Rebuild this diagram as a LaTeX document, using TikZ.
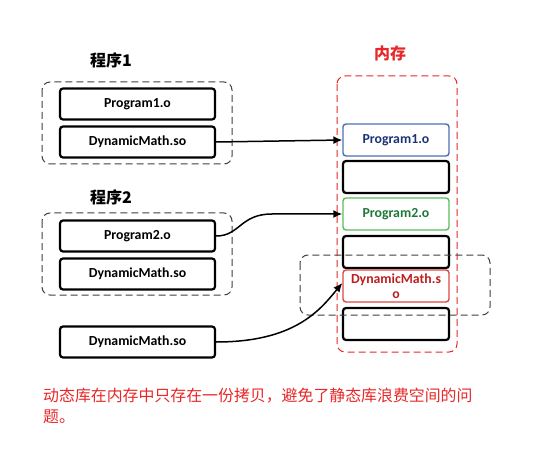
\documentclass[tikz,border=0pt]{standalone}
\usepackage{fontspec}
\setmainfont{Carlito}
\newfontfamily\cjk{Noto Sans CJK SC}
\usetikzlibrary{arrows.meta}
\definecolor{memred}{RGB}{232,40,40}
\definecolor{blueb}{RGB}{80,110,180}
\definecolor{bluet}{RGB}{30,50,120}
\definecolor{greenb}{RGB}{90,190,90}
\definecolor{greent}{RGB}{30,120,60}
\definecolor{redb}{RGB}{225,70,70}
\definecolor{redt}{RGB}{190,30,30}
\begin{document}
\begin{tikzpicture}[x=1pt,y=-1pt,
  box/.style={draw, line width=2.2pt, rounded corners=3pt, minimum width=155pt, minimum height=31pt, inner sep=0pt, font=\bfseries\fontsize{13.8}{15}\selectfont},
  mem/.style={draw, line width=2.2pt, rounded corners=3pt, minimum width=106pt, minimum height=32pt, inner sep=0pt, align=center, font=\bfseries\fontsize{13.8}{15}\selectfont},
  grp/.style={draw=black!75, dash pattern=on 7pt off 4pt, line width=1pt, rounded corners=8pt},
  lbl/.style={font=\cjk\bfseries\fontsize{16}{18}\selectfont},
  conn/.style={line width=1.5pt, -{Latex[length=9pt,width=8pt]}}
]
\useasboundingbox (0,0) rectangle (538,473);
\fill[white] (0,0) rectangle (538,473);

% groups
\draw[grp] (42,82) rectangle (232,164);
\draw[grp] (42,213) rectangle (232,295);
\draw[grp, draw=memred] (337,76) rectangle (457,352);

% labels
\node[lbl] (l1) at (111,60) {程序1};
\node[lbl] (l2) at (111,197) {程序2};
\node[lbl, text=memred] (l3) at (390,53) {内存};

% left boxes
\node[box] (p1) at (137.5,104) {Program1.o};
\node[box] (d1) at (137.5,142) {DynamicMath.so};
\node[box] (p2) at (137.5,236) {Program2.o};
\node[box] (d2) at (137.5,274) {DynamicMath.so};
\node[box] (d3) at (137.5,342) {DynamicMath.so};

% memory boxes
\node[mem, draw=blueb, text=bluet, line width=1.4pt] (m1) at (396,140) {Program1.o};
\node[mem] (e1) at (396,177) {};
\node[mem, draw=greenb, text=greent, line width=1.4pt] (m2) at (396,214) {Program2.o};
\node[mem] (e2) at (396,252) {};
\node[mem, draw=redb, text=redt, line width=1.4pt] (m3) at (396,286) {DynamicMath.s\\o};
\node[mem] (e3) at (396,324) {};

\draw[grp] (300,255) rectangle (490,315);

% connectors
\draw[conn] (d1.east) -- (m1.west);
\draw[conn] (p2.east) .. controls (240,236) and (240,214) .. (272,214) -- (m2.west);
\draw[conn] (d3.east) .. controls (295,342) and (320,310) .. ([yshift=3pt]m3.west);

% caption
\node[anchor=north west, align=left, text=memred, inner sep=0pt,
  font=\cjk\fontsize{15.9}{21}\selectfont] (cap) at (43,388)
  {动态库在内存中只存在一份拷贝，避免了静态库浪费空间的问\\题。};
\end{tikzpicture}
\end{document}
